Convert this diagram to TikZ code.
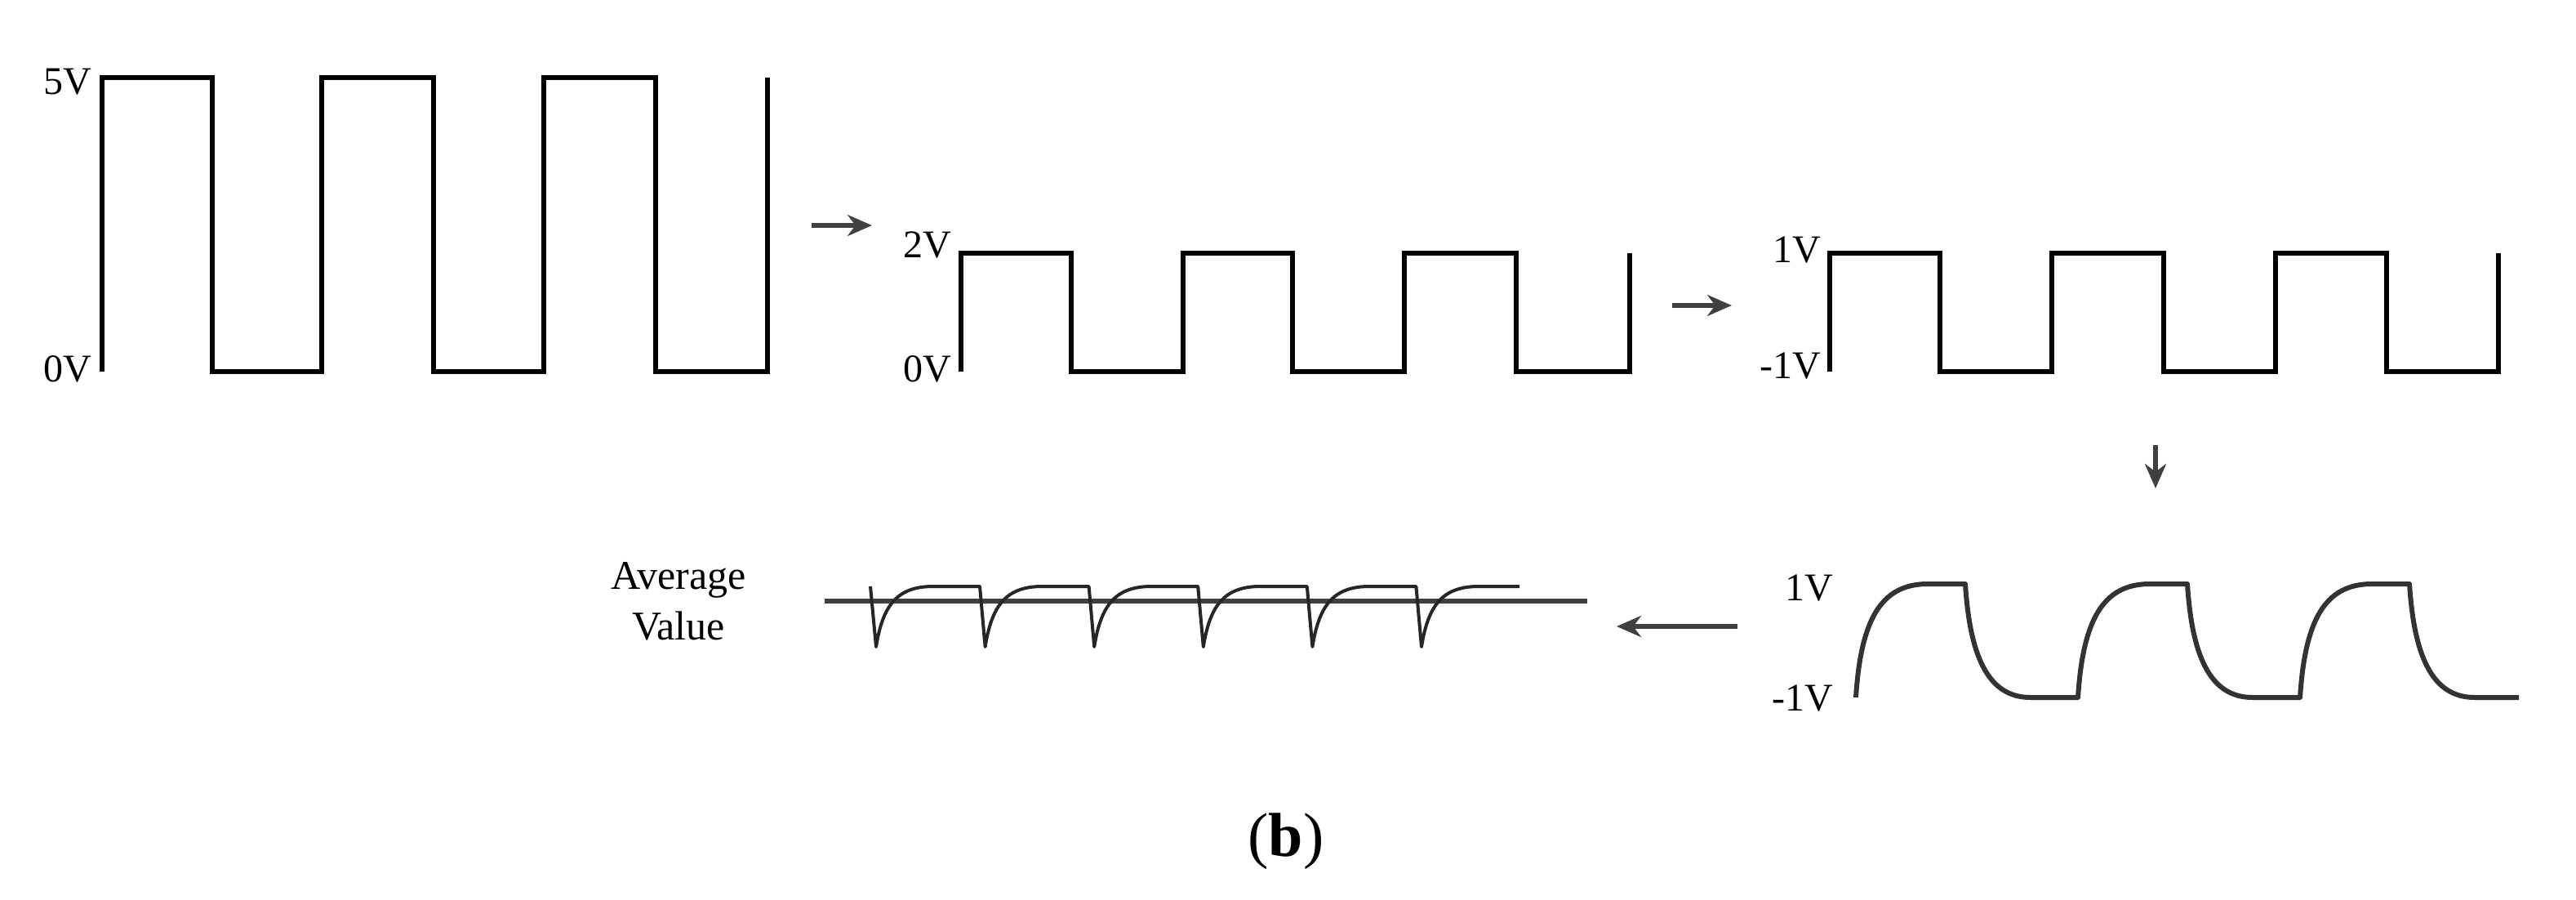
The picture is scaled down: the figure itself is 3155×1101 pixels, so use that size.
\documentclass[tikz,border=0pt]{standalone}
\usepackage{fontspec}
\setmainfont{Liberation Serif}
\usetikzlibrary{arrows.meta}
\begin{document}
\begin{tikzpicture}[x=1pt,y=-1pt,
  wave/.style={line width=6.5pt,black,line join=miter},
  soft/.style={line width=6pt,black!80,line join=round},
  arr/.style={line width=5.5pt,black!75,-{Stealth[length=30pt,width=26pt]}},
  lbl/.style={font=\fontsize{48}{50}\selectfont,inner sep=0pt}]
\useasboundingbox (0,0) rectangle (3155,1101);
% wave 1
\draw[wave] (125,455) -- (125,95) -- (260,95) -- (260,455) -- (394,455) -- (394,95) -- (531,95) -- (531,455) -- (666,455) -- (666,95) -- (803,95) -- (803,455) -- (940,455) -- (940,95);
\node[lbl,anchor=east] (l5) at (112,100) {5V};
\node[lbl,anchor=east] (l0a) at (112,452) {0V};
\coordinate (a1s) at (994,276); \coordinate (a1e) at (1068,276);
\draw[arr] (a1s) -- (a1e);
% wave 2
\draw[wave] (1177,455) -- (1177,310) -- (1312,310) -- (1312,455) -- (1449,455) -- (1449,310) -- (1583,310) -- (1583,455) -- (1720,455) -- (1720,310) -- (1857,310) -- (1857,455) -- (1996,455) -- (1996,310);
\node[lbl,anchor=east] (l2) at (1165,300) {2V};
\node[lbl,anchor=east] (l0b) at (1165,452) {0V};
\coordinate (a2s) at (2048,374); \coordinate (a2e) at (2121,374);
\draw[arr] (a2s) -- (a2e);
% wave 3
\draw[wave] (2241,455) -- (2241,310) -- (2376,310) -- (2376,455) -- (2513,455) -- (2513,310) -- (2650,310) -- (2650,455) -- (2787,455) -- (2787,310) -- (2923,310) -- (2923,455) -- (3060,455) -- (3060,310);
\node[lbl,anchor=east] (l1a) at (2230,306) {1V};
\node[lbl,anchor=east] (lm1a) at (2230,448) {-1V};
\coordinate (a3s) at (2640,545); \coordinate (a3e) at (2640,598);
\draw[arr] (a3s) -- (a3e);
% wave 4
\draw[soft] (2273,854)
  .. controls (2279,760) and (2303,715) .. (2361,715) -- (2407,715)
  .. controls (2413,810) and (2438,854) .. (2487,854) -- (2545,854)
  .. controls (2551,760) and (2575,715) .. (2633,715) -- (2679,715)
  .. controls (2685,810) and (2710,854) .. (2759,854) -- (2817,854)
  .. controls (2823,760) and (2847,715) .. (2905,715) -- (2951,715)
  .. controls (2957,810) and (2982,854) .. (3031,854) -- (3085,854);
\node[lbl,anchor=east] (l1b) at (2245,720) {1V};
\node[lbl,anchor=east] (lm1b) at (2245,855) {-1V};
\coordinate (a4s) at (2128,767); \coordinate (a4e) at (1980,767);
\draw[arr] (a4s) -- (a4e);
% average
\draw[line width=6pt,black!75] (1010,736) -- (1944,736);
\draw[line width=4pt,black!85,line join=round] (1066,718)
 foreach \k in {0,...,5} {
  \pgfextra{\pgfmathsetmacro\xs{1073+133.6*\k}}
  -- (\xs,792) .. controls (\xs+8,742) and (\xs+25,718) .. (\xs+70,718)
  \ifnum\k<5 -- (\xs+127,718) \else -- (\xs+120,718) \fi
 };
\node[lbl,align=center,font=\fontsize{50}{62}\selectfont] (avg) at (831,736) {Average\\Value};
\node[inner sep=0pt,font=\fontsize{76}{80}\selectfont] (cap) at (1575,1030) {(\textbf{b})};
\end{tikzpicture}
\end{document}
